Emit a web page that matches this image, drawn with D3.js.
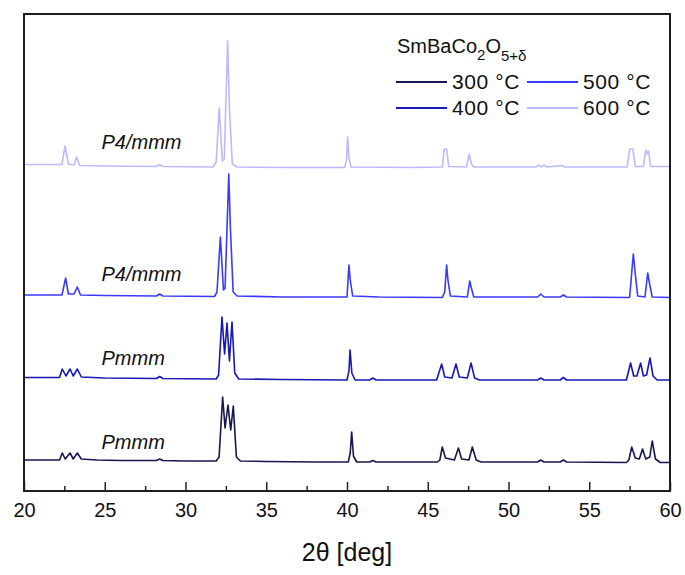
<!DOCTYPE html>
<html><head><meta charset="utf-8">
<script src="https://cdn.jsdelivr.net/npm/d3@7"></script>
<style>
body{margin:0;background:#fff}
svg{display:block}
text{font-family:"Liberation Sans",Arial,sans-serif;fill:#111}
</style>
</head><body>
<svg id="c" width="685" height="575"></svg>
<script>
// ---- data (2θ in degrees, intensity in arbitrary units above each pattern's offset) ----
const temperatures = ["300 °C", "400 °C", "500 °C", "600 °C"];
const phases = ["Pmmm", "Pmmm", "P4/mmm", "P4/mmm"];
const offsets = [28, 110, 193, 323];
const majorTicks = [20, 25, 30, 35, 40, 45, 50, 55, 60];
const minorTicks = [22.5, 27.5, 32.5, 37.5, 42.5, 47.5, 52.5, 57.5];

const s300 = [[20,3],[21.5,3],[22.2,3],[22.37,10],[22.55,4],[22.85,10],[23.05,4],[23.3,10],[23.55,4],[24.5,3],[26,2.5],[28.2,2.5],[28.4,4],[28.6,2.5],[30,2],[31.9,2],[32.08,6],[32.3,66],[32.45,35],[32.63,58],[32.8,33],[32.96,57],[33.15,6],[33.4,2],[35,1.5],[38,1],[40.08,1],[40.2,10],[40.29,31],[40.4,7],[40.6,1],[41.4,1],[41.6,2.5],[41.8,1],[45.6,1],[45.75,3],[45.9,16],[46.1,5],[46.65,3],[46.9,15],[47.1,4],[47.55,3],[47.76,16],[48.0,3],[48.3,1],[51.8,1],[52.0,3],[52.2,1],[53.2,1],[53.4,3],[53.6,1],[57.3,0.5],[57.45,3],[57.63,16],[57.85,5],[58.1,4],[58.3,14],[58.5,4],[58.75,6],[58.9,22],[59.1,4],[59.4,0.5],[60,0.5]];

const s400 = [[20,3.5],[22.2,3.5],[22.37,12],[22.6,5],[22.85,12],[23.05,5],[23.3,12],[23.55,4],[25,3],[28.2,2.5],[28.4,4.5],[28.6,2.5],[31.9,2],[32.05,6],[32.26,64],[32.42,27],[32.57,58],[32.72,20],[32.88,59],[33.05,8],[33.3,2],[36,1.5],[40.0,1],[40.12,10],[40.19,31],[40.3,8],[40.5,1],[41.4,1],[41.6,3],[41.8,1],[45.55,1],[45.86,17],[46.05,4],[46.5,3],[46.75,17],[46.95,4],[47.45,3],[47.68,18],[47.9,3],[48.2,1],[51.8,1],[52.0,3],[52.2,1],[53.2,1],[53.4,3.5],[53.6,1],[57.3,1],[57.56,18],[57.75,5],[57.95,5],[58.18,18],[58.35,5],[58.55,6],[58.76,23],[58.95,5],[59.2,1],[60,1]];

const s500 = [[20,3],[22.35,3],[22.58,20],[22.75,4],[23.1,4],[23.3,11],[23.5,3],[25,2.5],[28.2,2],[28.4,4],[28.6,2],[31.8,1.5],[31.95,6],[32.16,61],[32.35,8],[32.45,10],[32.68,124],[32.78,70],[32.95,6],[33.2,2],[36,1],[40.0,1],[40.12,33],[40.2,18],[40.35,2],[42,1],[45.9,0.5],[46.05,6],[46.17,33],[46.25,18],[46.4,2],[47.45,1],[47.6,17],[47.7,10],[47.85,1],[51.8,1],[52.0,4],[52.2,1],[53.2,1],[53.4,3],[53.6,1],[57.5,0.5],[57.73,44],[57.85,24],[58.0,2],[58.45,1],[58.62,25],[58.75,13],[58.9,1],[60,0.5]];

const s600 = [[20,3.5],[22.35,3.5],[22.54,22],[22.75,4],[23.1,3],[23.26,11],[23.45,2.5],[25,2],[28.2,1.5],[28.4,3.5],[28.6,1.5],[31.7,1],[31.9,6],[32.09,60],[32.28,7],[32.4,9],[32.61,127],[32.72,60],[32.9,4],[33.2,1],[36,0.5],[39.85,0.5],[39.97,8],[40.04,31],[40.12,10],[40.25,1],[44,0.5],[45.9,1],[46.02,19],[46.17,19],[46.3,1.5],[47.4,1],[47.57,14],[47.7,4],[47.85,1],[51.7,1],[51.85,3],[52.0,1],[52.2,3],[52.4,1],[53.3,2.5],[53.5,1],[57.35,1],[57.5,19],[57.7,19],[57.85,1.5],[58.35,1.5],[58.5,18],[58.6,14],[58.67,17],[58.8,1.5],[60,1.5]];

const seriesList = [s300, s400, s500, s600];
const colors = ["#17174f", "#1818b4", "#3a3aff", "#babaff"];

// ---- layout ----
const svg = d3.select("#c");
const L = 24, R = 670, T = 14, B = 491;
const x = d3.scaleLinear().domain([20, 60]).range([L, R]);
const y = d3.scaleLinear().domain([0, B - T]).range([B, T]);

const line = d3.line().x(d => x(d[0])).y(d => y(d[1]));

seriesList.forEach((s, i) => {
  const off = offsets[i];
  svg.append("path")
    .datum(s.map(d => [d[0], d[1] + off]))
    .attr("d", line)
    .attr("fill", "none")
    .attr("stroke", colors[i])
    .attr("stroke-width", 1.6)
    .attr("stroke-linejoin", "round");
});

// phase labels
const labelRise = [11, 13, 14, 16];
phases.forEach((p, i) => {
  svg.append("text")
    .attr("x", x(24.8))
    .attr("y", y(offsets[i] + 3 + labelRise[i]))
    .attr("font-size", 20)
    .attr("font-style", "italic")
    .text(p);
});

// axes
const gx = svg.append("g").attr("transform", `translate(0,${B})`);
gx.call(d3.axisBottom(x).tickValues(majorTicks).tickFormat(d3.format("d")).tickSize(-9).tickPadding(12));
gx.select(".domain").remove();
gx.selectAll("text").attr("font-size", 20).attr("font-family", '"Liberation Sans",Arial,sans-serif').attr("fill", "#111");
gx.selectAll("line").attr("stroke", "#222").attr("stroke-width", 1.5);
const gm = svg.append("g").attr("transform", `translate(0,${B})`);
gm.call(d3.axisBottom(x).tickValues(minorTicks).tickFormat("").tickSize(-5));
gm.select(".domain").remove();
gm.selectAll("line").attr("stroke", "#222").attr("stroke-width", 1.5);

svg.append("rect").attr("x", L).attr("y", T).attr("width", R - L).attr("height", B - T)
  .attr("fill", "none").attr("stroke", "#1e1e1e").attr("stroke-width", 2);

svg.append("text").attr("x", (L + R) / 2).attr("y", 561).attr("text-anchor", "middle")
  .attr("font-size", 25).text("2θ [deg]");

// legend
const lg = svg.append("g");
const title = lg.append("text").attr("x", 397).attr("y", 53).attr("font-size", 20);
title.append("tspan").text("SmBaCo");
title.append("tspan").attr("font-size", 15).attr("dy", 7).text("2");
title.append("tspan").attr("dy", -7).text("O");
title.append("tspan").attr("font-size", 15).attr("dy", 8).text("5+δ");

const legPos = [[396, 82], [396, 108], [527, 82], [527, 108]];
temperatures.forEach((t, i) => {
  const [lx, ly] = legPos[i];
  lg.append("line").attr("x1", lx).attr("x2", lx + 51).attr("y1", ly).attr("y2", ly)
    .attr("stroke", colors[i]).attr("stroke-width", 2);
  lg.append("text").attr("x", lx + 56).attr("y", ly + 7).attr("font-size", 21)
    .attr("letter-spacing", 0.6).text(t);
});
</script>
</body></html>
